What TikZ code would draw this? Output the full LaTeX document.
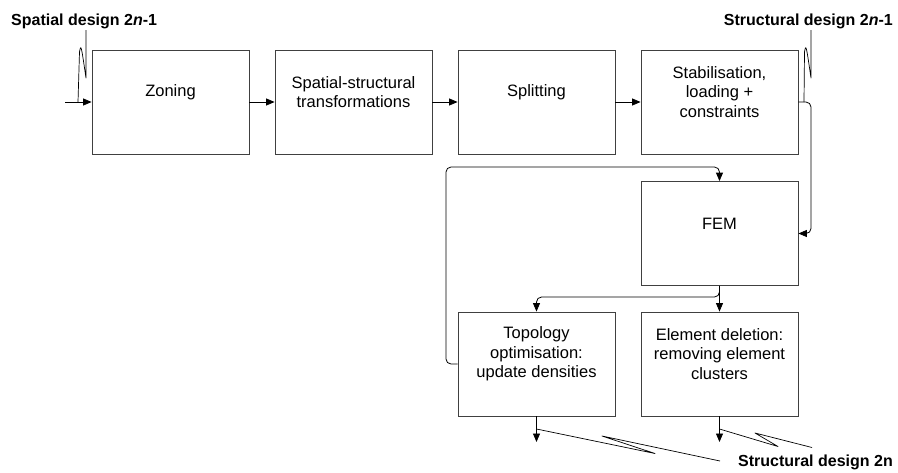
\documentclass[tikz,border=0pt]{standalone}
\usepackage{fontspec}
\setmainfont{Liberation Sans}
\usetikzlibrary{arrows.meta}
\begin{document}
\begin{tikzpicture}[x=1pt,y=-1pt,
  stepbox/.style={draw=black!75, line width=0.8pt, minimum width=157pt, minimum height=104pt, inner sep=0pt},
  boxtext/.style={align=center, font=\fontsize{16.5}{19.5}\selectfont, inner sep=0pt},
  title/.style={font=\fontsize{16}{19}\selectfont\bfseries, inner sep=0pt},
  flow/.style={line width=0.8pt, -{Triangle[length=8.5pt,width=7pt]}},
  callout/.style={line width=0.7pt, line join=round},
  rounded/.style={rounded corners=5pt}]
\useasboundingbox (0,0) rectangle (898,472);

% process boxes
\node[stepbox] (zon)  at (170.5,102) {};
\node[stepbox] (sst)  at (353.5,102) {};
\node[stepbox] (spl)  at (536.5,102) {};
\node[stepbox] (stab) at (719.5,102) {};
\node[stepbox] (fem)  at (719.5,233.5) {};
\node[stepbox] (top)  at (536.5,364) {};
\node[stepbox] (del)  at (719.5,364) {};

\node[boxtext] (zonT)  at ([yshift=10pt]zon.center)  {Zoning};
\node[boxtext] (sstT)  at ([yshift=10pt]sst.center)  {Spatial-structural\\transformations};
\node[boxtext] (splT)  at ([yshift=10pt]spl.center)  {Splitting};
\node[boxtext] (stabT) at ([yshift=10pt]stab.center) {Stabilisation,\\loading +\\constraints};
\node[boxtext] (femT)  at ([yshift=10pt]fem.center)  {FEM};
\node[boxtext] (topT)  at ([yshift=10pt]top.center)  {Topology\\optimisation:\\update densities};
\node[boxtext] (delT)  at ([yshift=10pt]del.center)  {Element deletion:\\removing element\\clusters};

% titles
\node[title, anchor=base west] (inL)  at (11,25)  {Spatial design 2\textit{n}-1};
\node[title, anchor=base east] (strL) at (893,25) {Structural design 2\textit{n}-1};
\node[title, anchor=base east] (outL) at (893,466) {Structural design 2n};

% helper points
\coordinate (in0) at (65,102);
\coordinate (r1) at (811,233.5);
\coordinate (l1) at (446,167);
\coordinate (b1) at (719.5,297);
\coordinate (o1) at (536.5,442);
\coordinate (o2) at (719.5,442);

% main flow
\draw[flow] (in0) -- (zon.west);
\draw[flow] (zon.east) -- (sst.west);
\draw[flow] (sst.east) -- (spl.west);
\draw[flow] (spl.east) -- (stab.west);
\draw[flow, rounded] (stab.east) -| (r1) -- (fem.east);
\draw[flow] (fem.south) -- (del.north);
\draw[flow, rounded] (fem.south) -- (b1) -| (top.north);
\draw[flow, rounded] (top.west) -| (l1) -| (fem.north);
\draw[flow] (top.south) -- (o1);
\draw[flow] (del.south) -- (o2);

% callout leaders
\draw[callout] (78,102) -- (79.5,52) .. controls (81,44) .. (86,78) -- (86,30);
\draw[callout] (804,102) -- (804.5,52) .. controls (806,44) .. (811,78) -- (811,30);
\draw[callout] (536.5,429) -- (655,453.5) -- (602,436) -- (720,461);
\draw[callout] (719.5,429) -- (778,446.5) -- (755,433) -- (812,447.5);
\end{tikzpicture}
\end{document}
